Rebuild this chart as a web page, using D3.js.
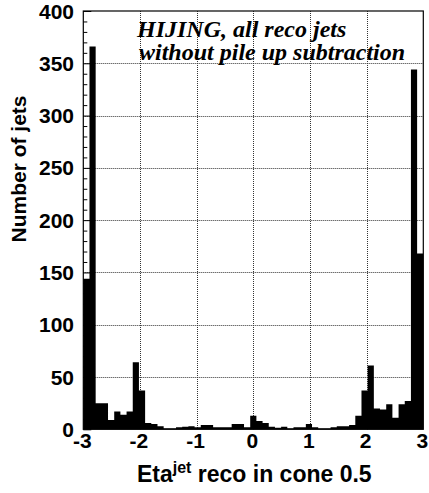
<!DOCTYPE html>
<html>
<head>
<meta charset="utf-8">
<script src="https://cdn.jsdelivr.net/npm/d3@7/dist/d3.min.js"></script>
<style>
  html, body { margin: 0; padding: 0; background: #fff; }
  svg { display: block; }
  .sans { font-family: "Liberation Sans", Arial, Helvetica, sans-serif; font-weight: bold; }
  .serif { font-family: "Liberation Serif", "Times New Roman", serif; font-weight: bold; font-style: italic; }
</style>
</head>
<body>
<svg id="chart" width="429" height="493"></svg>
<script>
// Histogram range and per-bin jet counts (55 equal bins in eta)
const etaRange = [-3, 3];
const counts = [
  144, 366, 25, 25, 9, 17, 14, 17, 64, 37,
  6, 5, 3, 1, 1, 2, 2.5, 3, 2, 4,
  4, 2, 2, 2, 5, 5, 2, 13, 8, 6,
  2.5, 1.5, 2.5, 1, 2, 2, 5, 2, 1, 1,
  2, 3, 3, 4, 13, 37, 61, 20, 19, 24,
  11, 24, 27, 344, 168
];
const xTicks = [-3, -2, -1, 0, 1, 2, 3];
const xGrid = [-2, -1, 0, 1, 2];
const yTicks = [0, 50, 100, 150, 200, 250, 300, 350, 400];
const yGrid = [50, 100, 150, 200, 250, 300, 350];
const yMinorTicks = d3.range(0, 401, 10);
const labelLines = ["HIJING, all reco jets", "without pile up subtraction"];
const xTitle = { main: "Eta", sup: "jet", rest: " reco in cone 0.5" };
const yTitle = "Number of jets";

const svg = d3.select("#chart");
const padL = 83.3, padR = 423.3, padT = 11, padB = 429.3;

const x = d3.scaleLinear().domain(etaRange).range([padL, padR]);
const y = d3.scaleLinear().domain([0, 400]).range([padB, padT]);

const nBins = counts.length;
const binW = (etaRange[1] - etaRange[0]) / nBins;
const bins = counts.map((c, i) => ({ x0: etaRange[0] + i * binW, x1: etaRange[0] + (i + 1) * binW, c }));

// dotted grid, beneath the bars
const grid = svg.append("g").attr("stroke", "#333").attr("stroke-width", 1).attr("stroke-dasharray", "1,1");
grid.selectAll("line.gx").data(xGrid).join("line")
  .attr("x1", d => Math.round(x(d)) + 0.5).attr("x2", d => Math.round(x(d)) + 0.5)
  .attr("y1", padT).attr("y2", padB);
grid.selectAll("line.gy").data(yGrid).join("line")
  .attr("y1", d => Math.round(y(d)) + 0.5).attr("y2", d => Math.round(y(d)) + 0.5)
  .attr("x1", padL).attr("x2", padR);

// filled histogram as one stepped area
const area = d3.area()
  .x(d => x(d[0]))
  .y0(y(0))
  .y1(d => y(d[1]))
  .curve(d3.curveStepAfter);
const pts = bins.map(b => [b.x0, b.c]);
pts.push([etaRange[1], counts[nBins - 1]]);
svg.append("path").datum(pts).attr("d", area).attr("fill", "#000").attr("stroke", "none");

// frame
svg.append("rect")
  .attr("x", padL).attr("y", padT)
  .attr("width", padR - padL).attr("height", padB - padT)
  .attr("fill", "none").attr("stroke", "#000").attr("stroke-width", 1.2);

// y axis ticks drawn inward, minor every 10, major every 50
const yAxisG = svg.append("g").attr("transform", `translate(${padL},0)`);
const yAxis = d3.axisRight(y).tickValues(yMinorTicks).tickSize(4).tickFormat("");
yAxisG.call(yAxis);
yAxisG.selectAll(".tick line").attr("stroke", "#000")
  .attr("x2", d => (d % 50 === 0 ? 8 : 4));
yAxisG.select(".domain").remove();

// y tick labels
svg.append("g").selectAll("text").data(yTicks).join("text")
  .attr("class", "sans")
  .attr("x", 74).attr("y", d => y(d))
  .attr("dy", "0.36em")
  .attr("text-anchor", "end")
  .attr("font-size", 21)
  .text(d => d);

// x tick labels
svg.append("g").selectAll("text").data(xTicks).join("text")
  .attr("class", "sans")
  .attr("x", d => x(d) - 1).attr("y", 448)
  .attr("text-anchor", "middle")
  .attr("font-size", 21)
  .text(d => d);

// axis titles
const xt = svg.append("text").attr("class", "sans")
  .attr("x", (padL + padR) / 2 + 1).attr("y", 482)
  .attr("text-anchor", "middle").attr("font-size", 23);
xt.append("tspan").text(xTitle.main);
xt.append("tspan").attr("dy", -9).attr("font-size", 16).text(xTitle.sup);
xt.append("tspan").attr("dy", 9).text(xTitle.rest);

svg.append("text").attr("class", "sans")
  .attr("transform", "translate(26,169) rotate(-90)")
  .attr("text-anchor", "middle").attr("font-size", 21)
  .text(yTitle);

// annotation, two lines of bold italic serif
svg.append("g").selectAll("text").data(labelLines).join("text")
  .attr("class", "serif")
  .attr("x", (d, i) => (i === 0 ? 137 : 139))
  .attr("y", (d, i) => 36.5 + i * 23)
  .attr("font-size", 24)
  .text(d => d);
</script>
</body>
</html>
